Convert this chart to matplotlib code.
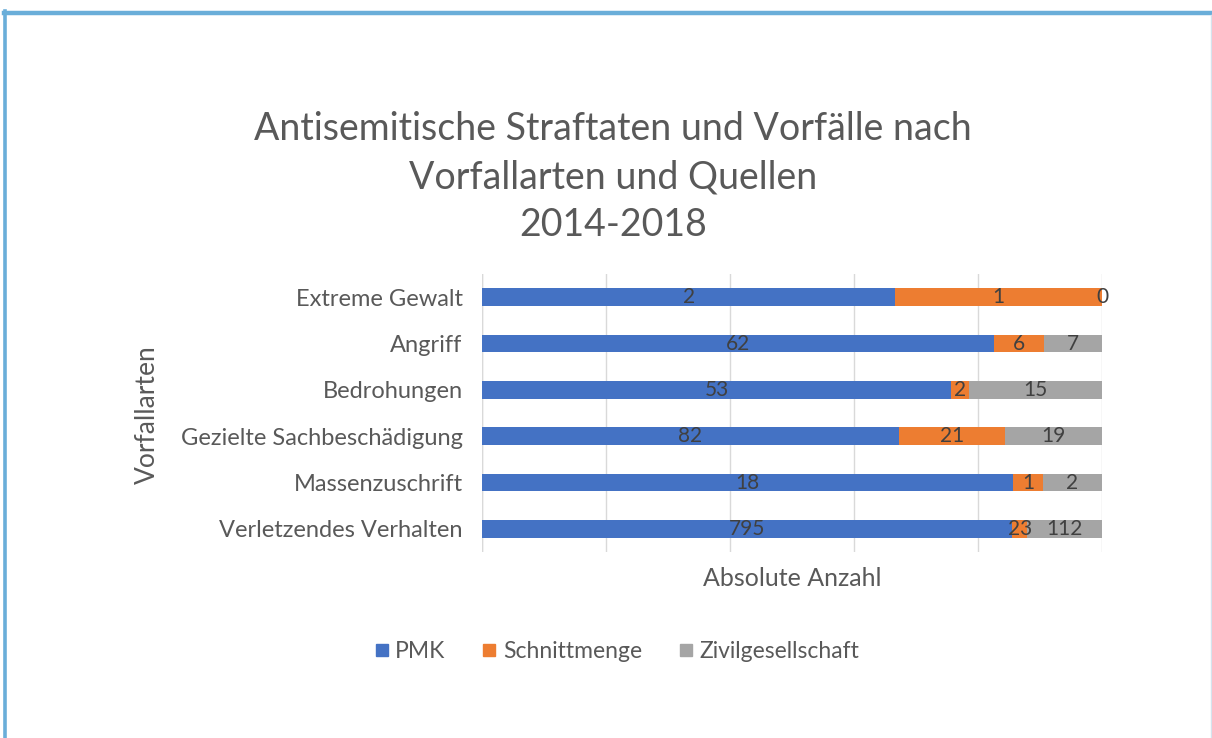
import matplotlib.pyplot as plt
import numpy as np
from matplotlib.lines import Line2D

kategorien = ["Extreme Gewalt", "Angriff", "Bedrohungen",
              "Gezielte Sachbeschädigung", "Massenzuschrift", "Verletzendes Verhalten"]
pmk = [2, 62, 53, 82, 18, 795]
schnittmenge = [1, 6, 2, 21, 1, 23]
zivil = [0, 7, 15, 19, 2, 112]
serien = ["PMK", "Schnittmenge", "Zivilgesellschaft"]
farben = ["#4472C4", "#ED7D31", "#A5A5A5"]

plt.rcParams['font.family'] = ['Lato', 'DejaVu Sans']
txt = "#595959"

fig = plt.figure(figsize=(12.12, 7.38), dpi=100)
ax = fig.add_axes([0.3977, 0.252, 0.5115, 0.3767])

werte = np.array([pmk, schnittmenge, zivil], dtype=float)
summe = werte.sum(axis=0)
anteile = werte / summe * 100
y = np.arange(len(kategorien))
links = np.zeros(len(kategorien))
for i in range(3):
    ax.barh(y, anteile[i], left=links, height=0.38, color=farben[i], label=serien[i], zorder=3)
    for j in range(len(kategorien)):
        if i == 2 and werte[i, j] == 0:
            xpos = 100
        else:
            xpos = links[j] + anteile[i, j] / 2
        ax.text(xpos, y[j], str(int(werte[i, j])), ha='center', va='center',
                fontsize=15, color="#404040", zorder=4)
    links += anteile[i]

ax.set_xlim(0, 100)
ax.set_ylim(len(kategorien) - 0.5, -0.5)
ax.set_yticks(y)
ax.set_yticklabels(kategorien, fontsize=17, color=txt)
ax.set_xticks([0, 20, 40, 60, 80, 100])
ax.set_xticklabels([])
ax.tick_params(length=0, pad=14)
ax.grid(axis='x', color="#D9D9D9", lw=1, zorder=0)
for s in ax.spines.values():
    s.set_visible(False)
ax.axvline(0, color="#D9D9D9", lw=1, zorder=1)

fig.text(792 / 1212, 1 - 578 / 738, "Absolute Anzahl", fontsize=18, color=txt,
         ha='center', va='center')
fig.text(147 / 1212, 1 - 415 / 738, "Vorfallarten", rotation=90, fontsize=19,
         color=txt, ha='center', va='center')

fig.text(613 / 1212, 1 - 177 / 738,
         "Antisemitische Straftaten und Vorfälle nach\nVorfallarten und Quellen\n2014-2018",
         ha='center', va='center', fontsize=27, color=txt, linespacing=1.4)

handles = [Line2D([], [], marker='s', ls='', color=c, markersize=8) for c in farben]
fig.legend(handles, serien, loc='center', bbox_to_anchor=(617 / 1212, 1 - 652 / 738),
           ncol=3, frameon=False, fontsize=16.5, labelcolor=txt, handletextpad=0.3,
           handlelength=0.6, columnspacing=1.6)

# Rahmen
fig.add_artist(Line2D([0.003, 1.0], [1 - 13 / 738, 1 - 13 / 738], transform=fig.transFigure,
                      color="#6AAED9", lw=3.2))
fig.add_artist(Line2D([4.5 / 1212, 4.5 / 1212], [0, 1 - 11 / 738], transform=fig.transFigure,
                      color="#6AAED9", lw=2.6))
fig.add_artist(Line2D([1210.5 / 1212, 1210.5 / 1212], [0, 1 - 15 / 738], transform=fig.transFigure,
                      color="#D5E3EE", lw=1))

fig.savefig("out.png", dpi=100)
